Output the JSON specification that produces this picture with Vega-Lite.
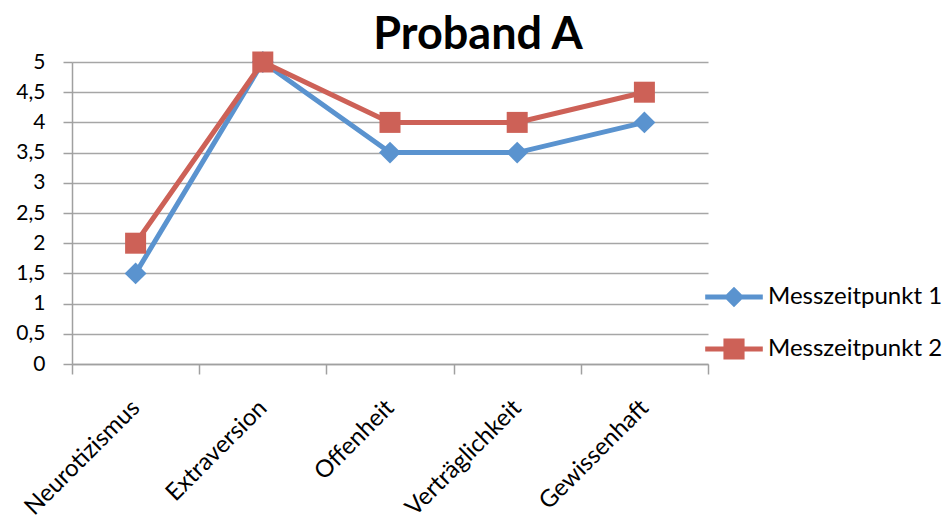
{
  "$schema": "https://vega.github.io/schema/vega-lite/v6.json",
  "autosize": {"type": "none"},
  "padding": {"left": 72, "top": 62, "right": 242, "bottom": 156},
  "width": 636,
  "height": 302,
  "background": "white",
  "title": {
    "text": "Proband A",
    "font": "Lato",
    "fontSize": 45,
    "fontWeight": "bold",
    "color": "#000000",
    "anchor": "middle",
    "dx": 88,
    "dy": 15,
    "offset": 8
  },
  "data": {
    "values": [
      {"dim": "Neurotizismus", "serie": "Messzeitpunkt 1", "wert": 1.5},
      {"dim": "Extraversion", "serie": "Messzeitpunkt 1", "wert": 5},
      {"dim": "Offenheit", "serie": "Messzeitpunkt 1", "wert": 3.5},
      {"dim": "Verträglichkeit", "serie": "Messzeitpunkt 1", "wert": 3.5},
      {"dim": "Gewissenhaft", "serie": "Messzeitpunkt 1", "wert": 4},
      {"dim": "Neurotizismus", "serie": "Messzeitpunkt 2", "wert": 2},
      {"dim": "Extraversion", "serie": "Messzeitpunkt 2", "wert": 5},
      {"dim": "Offenheit", "serie": "Messzeitpunkt 2", "wert": 4},
      {"dim": "Verträglichkeit", "serie": "Messzeitpunkt 2", "wert": 4},
      {"dim": "Gewissenhaft", "serie": "Messzeitpunkt 2", "wert": 4.5}
    ]
  },
  "encoding": {
    "x": {
      "field": "dim",
      "type": "nominal",
      "sort": ["Neurotizismus", "Extraversion", "Offenheit", "Verträglichkeit", "Gewissenhaft"],
      "bandPosition": 0.5,
      "scale": {"type": "band", "paddingInner": 0, "paddingOuter": 0},
      "axis": {
        "title": null,
        "labelAngle": -45,
        "labelAlign": "right",
        "labelBaseline": "middle",
        "labelFont": "Lato",
        "labelFontSize": 24,
        "labelColor": "#000000",
        "labelPadding": 30,
        "labelOffset": 0,
        "tickBand": "extent",
        "tickSize": 10,
        "tickColor": "#a0a0a0",
        "tickWidth": 1.5,
        "domainColor": "#a0a0a0",
        "domainWidth": 1.5,
        "grid": false
      }
    },
    "y": {
      "field": "wert",
      "type": "quantitative",
      "scale": {"domain": [0, 5], "nice": false},
      "axis": {
        "title": null,
        "values": [0, 0.5, 1, 1.5, 2, 2.5, 3, 3.5, 4, 4.5, 5],
        "labelExpr": "replace(toString(datum.value), '.', ',')",
        "labelFont": "Lato",
        "labelFontSize": 21,
        "labelColor": "#000000",
        "labelPadding": 18,
        "tickSize": 9,
        "tickColor": "#a0a0a0",
        "tickWidth": 1.5,
        "domainColor": "#a0a0a0",
        "domainWidth": 1.5,
        "grid": true,
        "gridColor": "#a6a6a6",
        "gridWidth": 1.5
      }
    }
  },
  "layer": [
    {
      "transform": [{"filter": "datum.serie === 'Messzeitpunkt 1'"}],
      "mark": {"type": "line", "strokeWidth": 5, "color": "#5a93cf"}
    },
    {
      "transform": [{"filter": "datum.serie === 'Messzeitpunkt 2'"}],
      "mark": {"type": "line", "strokeWidth": 5, "color": "#cd6157"}
    },
    {
      "transform": [{"filter": "datum.serie === 'Messzeitpunkt 1'"}],
      "mark": {"type": "point", "filled": true, "opacity": 1, "shape": "diamond", "size": 480, "color": "#5a93cf"}
    },
    {
      "transform": [{"filter": "datum.serie === 'Messzeitpunkt 2'"}],
      "mark": {"type": "point", "filled": true, "opacity": 1, "shape": "square", "size": 441, "color": "#cd6157"}
    },
    {
      "mark": {"type": "point", "filled": true, "size": 0, "opacity": 1},
      "encoding": {
        "color": {
          "field": "serie",
          "type": "nominal",
          "scale": {"domain": ["Messzeitpunkt 1", "Messzeitpunkt 2"], "range": ["#5a93cf", "#cd6157"]},
          "legend": {
            "title": null,
            "orient": "none",
            "legendX": 646,
            "legendY": 219,
            "padding": 0,
            "symbolSize": 1024,
            "symbolOpacity": 1,
            "symbolStrokeWidth": 0,
            "labelOffset": 18,
            "labelLimit": 400,
            "rowPadding": 24,
            "labelFont": "Lato",
            "labelFontSize": 24,
            "labelColor": "#000000"
          }
        },
        "shape": {
          "field": "serie",
          "type": "nominal",
          "scale": {
            "domain": ["Messzeitpunkt 1", "Messzeitpunkt 2"],
            "range": [
              "M-1.8,-0.16L1.8,-0.16L1.8,0.16L-1.8,0.16Z M-0.64,0L0,-0.64L0.64,0L0,0.64Z",
              "M-1.8,-0.16L1.8,-0.16L1.8,0.16L-1.8,0.16Z M-0.66,-0.66L0.66,-0.66L0.66,0.66L-0.66,0.66Z"
            ]
          }
        }
      }
    }
  ],
  "config": {
    "view": {"stroke": null}
  }
}
